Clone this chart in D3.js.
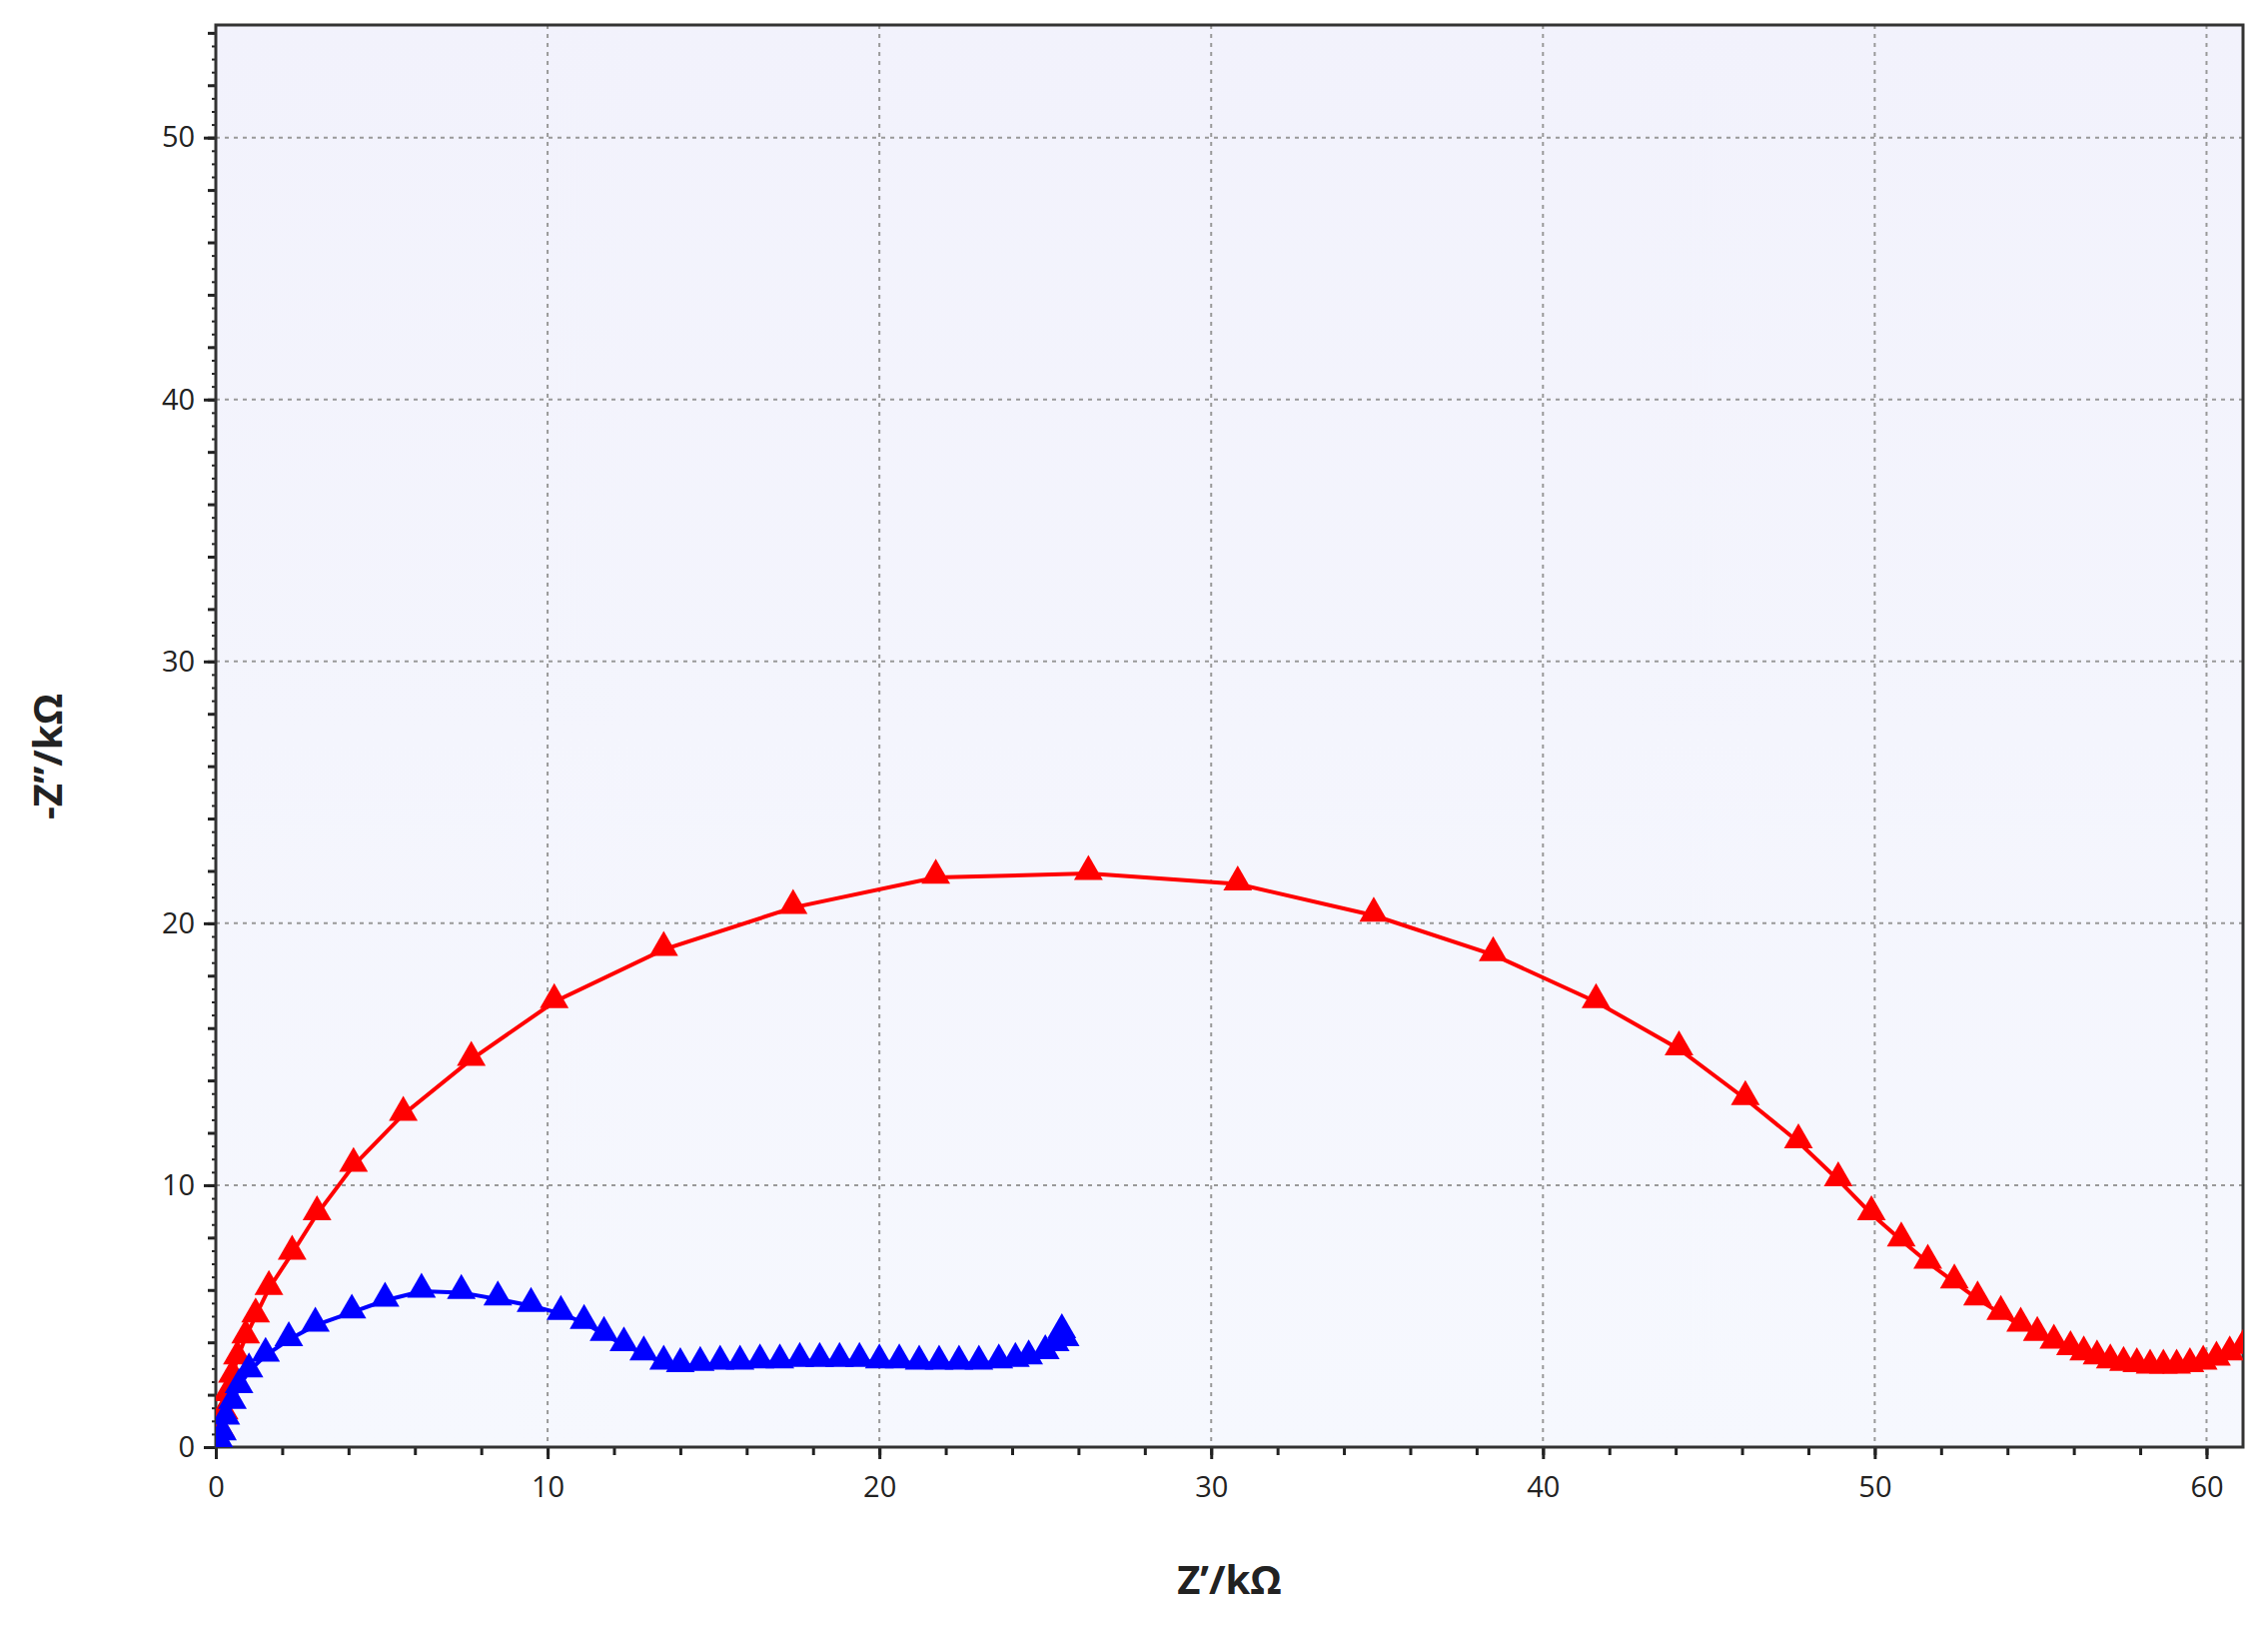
<!DOCTYPE html>
<html>
<head>
<meta charset="utf-8">
<script src="https://cdn.jsdelivr.net/npm/d3@7"></script>
<style>
  body { margin: 0; background: #fff; }
  text { font-family: "Open Sans", "Noto Sans", sans-serif; }
</style>
</head>
<body>
<svg id="chart" width="2270" height="1626"></svg>
<script>
// --- Data (Z' / kΩ, -Z'' / kΩ) ---
const redX = [0.1, 0.15, 0.25, 0.35, 0.5, 0.65, 0.9, 1.2, 1.6, 2.3, 3.05, 4.15, 5.65, 7.7, 10.2, 13.5, 17.4,
  21.7, 26.3, 30.8, 34.9, 38.5, 41.6, 44.1, 46.1, 47.7, 48.9, 49.9, 50.8, 51.6, 52.4, 53.1, 53.8, 54.4, 54.9, 55.4,
  55.9, 56.3, 56.7, 57.1, 57.5, 57.9, 58.3, 58.7, 59.1, 59.5, 59.9, 60.3, 60.7, 61.1];
const redY = [0.1, 0.6, 1.3, 2.0, 2.7, 3.4, 4.2, 5.0, 6.05, 7.4, 8.9, 10.75, 12.7, 14.8, 17.0, 19.0, 20.6,
  21.75, 21.9, 21.5, 20.3, 18.8, 17.0, 15.2, 13.3, 11.65, 10.2, 8.9, 7.9, 7.05, 6.3, 5.65, 5.1, 4.65, 4.3, 4.0,
  3.75, 3.55, 3.4, 3.25, 3.15, 3.1, 3.05, 3.05, 3.05, 3.1, 3.2, 3.35, 3.55, 3.8];
const blueX = [0.15, 0.2, 0.3, 0.5, 0.7, 1.0, 1.5, 2.2, 3.0, 4.1, 5.1, 6.2, 7.4, 8.5, 9.5, 10.4, 11.1, 11.7,
  12.3, 12.9, 13.5, 14.0, 14.6, 15.2, 15.8, 16.4, 17.0, 17.6, 18.2, 18.8, 19.4, 20.0, 20.6, 21.2, 21.8, 22.4,
  23.0, 23.6, 24.1, 24.5, 25.0, 25.3, 25.5, 25.6];
const blueY = [0.1, 0.5, 1.1, 1.7, 2.3, 2.9, 3.5, 4.1, 4.65, 5.15, 5.6, 5.95, 5.9, 5.65, 5.4, 5.1, 4.75, 4.3,
  3.9, 3.55, 3.2, 3.1, 3.15, 3.2, 3.2, 3.25, 3.25, 3.3, 3.3, 3.3, 3.3, 3.25, 3.25, 3.2, 3.2, 3.2,
  3.2, 3.25, 3.3, 3.4, 3.6, 3.9, 4.4, 4.1];
const xTicks = [0, 10, 20, 30, 40, 50, 60];
const yTicks = [0, 10, 20, 30, 40, 50];

const svg = d3.select('#chart');
const m = { left: 216, right: 2245, top: 25, bottom: 1448 };

const x = d3.scaleLinear().domain([0, 61.1]).range([m.left, m.right]);
const y = d3.scaleLinear().domain([0, 54.3]).range([m.bottom, m.top]);

// background gradient
const defs = svg.append('defs');
const grad = defs.append('linearGradient').attr('id', 'bg').attr('x1', 0).attr('y1', 0).attr('x2', 0).attr('y2', 1);
grad.append('stop').attr('offset', '0%').attr('stop-color', '#f2f2fc');
grad.append('stop').attr('offset', '100%').attr('stop-color', '#f6f8fe');
defs.append('clipPath').attr('id', 'clip').append('rect')
  .attr('x', m.left).attr('y', m.top).attr('width', m.right - m.left).attr('height', m.bottom - m.top);

svg.append('rect').attr('x', m.left).attr('y', m.top)
  .attr('width', m.right - m.left).attr('height', m.bottom - m.top).attr('fill', 'url(#bg)');

// grid
svg.append('g').selectAll('line').data(xTicks.filter(d => d > 0)).join('line')
  .attr('x1', d => x(d)).attr('x2', d => x(d)).attr('y1', m.top).attr('y2', m.bottom)
  .attr('stroke', '#999').attr('stroke-width', 2).attr('stroke-dasharray', '4,5');
svg.append('g').selectAll('line').data(yTicks.filter(d => d > 0)).join('line')
  .attr('x1', m.left).attr('x2', m.right).attr('y1', d => y(d)).attr('y2', d => y(d))
  .attr('stroke', '#999').attr('stroke-width', 2).attr('stroke-dasharray', '4,5');

// axes
const xAxis = d3.axisBottom(x).tickValues(xTicks).tickSize(12).tickFormat(d3.format('d'));
const xMinor = d3.axisBottom(x).tickValues(d3.range(0, 61.1, 2)).tickSize(8).tickFormat('');
const yAxis = d3.axisLeft(y).tickValues(yTicks).tickSize(12).tickFormat(d3.format('d'));
const yMinor = d3.axisLeft(y).tickValues(d3.range(0, 54.3, 2)).tickSize(8).tickFormat('');
const yMicro = d3.axisLeft(y).tickValues(d3.range(0, 54.3, 0.5)).tickSize(4).tickFormat('');

function styleAxis(g) {
  g.select('.domain').remove();
  g.selectAll('line').attr('stroke', '#222').attr('stroke-width', 3);
  g.selectAll('text').attr('font-size', 29).attr('fill', '#222');
}
svg.append('g').attr('transform', `translate(0,${m.bottom})`).call(xMinor).call(styleAxis);
svg.append('g').attr('transform', `translate(0,${m.bottom})`).call(xAxis).call(styleAxis)
  .selectAll('text').attr('dy', '1.2em');
svg.append('g').attr('transform', `translate(${m.left},0)`).call(yMicro).call(styleAxis)
  .selectAll('line').attr('stroke-width', 2);
svg.append('g').attr('transform', `translate(${m.left},0)`).call(yMinor).call(styleAxis);
svg.append('g').attr('transform', `translate(${m.left},0)`).call(yAxis).call(styleAxis)
  .selectAll('text').attr('dx', '-0.2em');

// frame
svg.append('rect').attr('x', m.left).attr('y', m.top)
  .attr('width', m.right - m.left).attr('height', m.bottom - m.top)
  .attr('fill', 'none').attr('stroke', '#333').attr('stroke-width', 3);

// series
const plot = svg.append('g').attr('clip-path', 'url(#clip)');
const tri = d3.symbol().type(d3.symbolTriangle).size(360);
function drawSeries(xs, ys, color) {
  const pts = xs.map((v, i) => [v, ys[i]]);
  plot.append('path').datum(pts)
    .attr('d', d3.line().x(d => x(d[0])).y(d => y(d[1])))
    .attr('fill', 'none').attr('stroke', color).attr('stroke-width', 4);
  plot.append('g').selectAll('path').data(pts).join('path')
    .attr('transform', d => `translate(${x(d[0])},${y(d[1]) - 2})`)
    .attr('d', tri).attr('fill', color);
}
drawSeries(redX, redY, '#ff0000');
drawSeries(blueX, blueY, '#0000ff');

// titles
svg.append('text').attr('x', (m.left + m.right) / 2).attr('y', 1595)
  .attr('text-anchor', 'middle').attr('font-size', 40).attr('font-weight', 'bold').attr('fill', '#222')
  .text('Z\u2019/k\u03a9');
svg.append('text').attr('transform', 'translate(62,757) rotate(-90)')
  .attr('text-anchor', 'middle').attr('font-size', 40).attr('font-weight', 'bold').attr('fill', '#222')
  .text('-Z\u2019\u2019/k\u03a9');
</script>
</body>
</html>
